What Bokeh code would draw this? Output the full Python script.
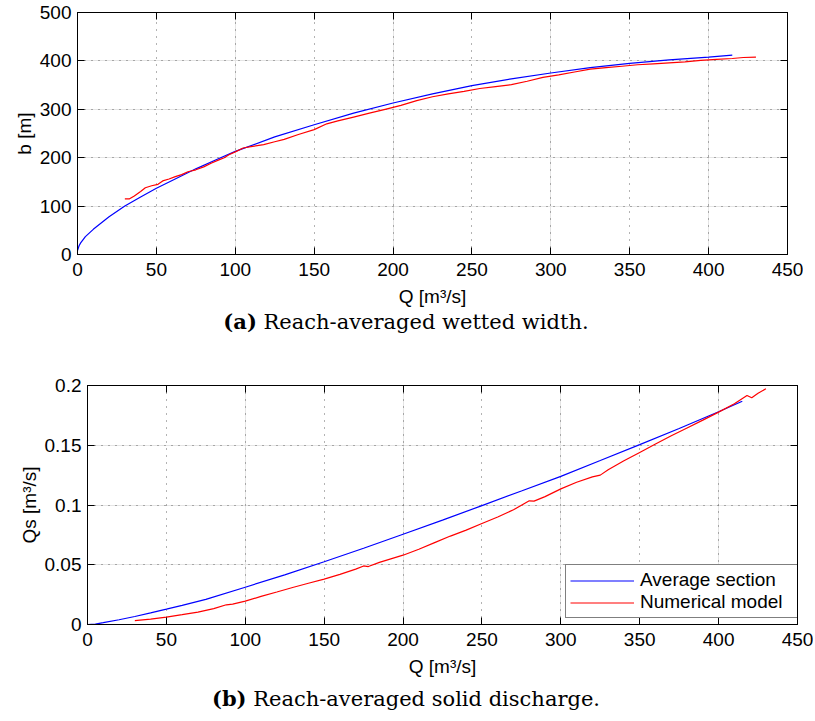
from bokeh.plotting import figure
from bokeh.models import (FixedTicker, LinearAxis, Div, Legend, LegendItem,
                          CustomJSTickFormatter, Range1d, Grid)
from bokeh.layouts import column
from bokeh.embed import file_html
from bokeh.resources import INLINE

# ---------------- data ----------------
x_ticks = [0, 50, 100, 150, 200, 250, 300, 350, 400, 450]
b_ticks = [0, 100, 200, 300, 400, 500]
qs_ticks = [0, 0.05, 0.1, 0.15, 0.2]

# (a) wetted width, average section
q_avg_b = [0, 1, 2, 5, 10, 20, 30, 40, 50, 60, 75, 90, 100, 125, 150, 175, 200,
           225, 250, 275, 300, 325, 350, 375, 400, 415]
b_avg = [8, 18, 24, 37, 52, 78, 100, 119, 137, 153, 177, 199, 213, 243, 268, 292,
         313, 332, 349, 363, 375, 386, 395, 402, 408, 412]

# (a) wetted width, numerical model
q_num_b = [30, 33, 36, 40, 43, 47, 51, 54, 58, 62, 66, 70, 75, 80, 85, 90, 93, 96,
           100, 105, 110, 118, 125, 131, 140, 150, 158, 165, 175, 185, 195, 205,
           215, 225, 235, 245, 255, 265, 275, 285, 295, 305, 315, 325, 335, 345,
           355, 365, 375, 385, 395, 405, 415, 422, 430]
b_num = [115, 115, 121, 130, 138, 142, 145, 152, 156, 161, 165, 171, 175, 181, 189,
         196, 200, 206, 212, 220, 223, 227, 233, 238, 248, 258, 270, 276, 284, 292,
         300, 308, 318, 326, 332, 337, 343, 347, 351, 358, 366, 371, 377, 383, 386,
         389, 392, 394, 396, 398, 401, 403, 405, 407, 408]

# (b) solid discharge, average section
q_avg_s = [0, 5, 10, 20, 30, 40, 50, 60, 75, 100, 125, 150, 175, 200, 225, 250,
           275, 300, 325, 350, 375, 400, 415]
qs_avg = [0, 0.0003, 0.0015, 0.0040, 0.0067, 0.0097, 0.0128, 0.0160, 0.0210,
          0.0312, 0.0415, 0.0525, 0.0638, 0.0755, 0.0873, 0.0995, 0.1117, 0.1240,
          0.1372, 0.1505, 0.1640, 0.1780, 0.1868]

# (b) solid discharge, numerical model
q_num_s = [30, 40, 50, 60, 70, 80, 88, 92, 100, 110, 120, 130, 140, 150, 160, 170,
           175, 178, 185, 200, 210, 220, 230, 240, 250, 260, 270, 280, 283, 290,
           300, 310, 320, 325, 330, 340, 350, 360, 370, 380, 390, 400, 410, 418,
           421, 425, 430]
qs_num = [0.0033, 0.0045, 0.0062, 0.0082, 0.0104, 0.0133, 0.0165, 0.0170, 0.0195,
          0.0235, 0.0272, 0.0310, 0.0345, 0.0380, 0.0420, 0.0463, 0.0490, 0.0485,
          0.0520, 0.0580, 0.0630, 0.0685, 0.0740, 0.0790, 0.0845, 0.0900, 0.0960,
          0.1035, 0.1032, 0.1070, 0.1135, 0.1190, 0.1235, 0.1250, 0.1295, 0.1370,
          0.1440, 0.1510, 0.1580, 0.1645, 0.1710, 0.1777, 0.1847, 0.1916, 0.1897,
          0.1935, 0.1972]

series_names = ["Average section", "Numerical model"]
x_label = "Q [m\u00b3/s]"
y_label_a = "b [m]"
y_label_b = "Qs [m\u00b3/s]"
caption_a = ("(a)", "Reach-averaged wetted width.")
caption_b = ("(b)", "Reach-averaged solid discharge.")

FONT = "Liberation Sans"
FS = "19px"
BLUE = "#0000ff"
RED = "#ff0000"


def make_fig(width, height, left, top, bottom, yrange, yticks, yfmt=None):
    p = figure(width=width, height=height, output_backend="svg", toolbar_location=None,
               x_range=Range1d(0, 450), y_range=Range1d(*yrange),
               min_border_left=left, min_border_right=16, min_border_top=top,
               min_border_bottom=bottom, x_axis_location=None, y_axis_location=None)
    p.background_fill_color = "white"
    p.border_fill_color = "white"
    p.outline_line_color = "black"
    p.outline_line_width = 1

    def axis(ticks, labels, fmt=None):
        ax = LinearAxis(ticker=FixedTicker(ticks=ticks))
        if fmt is not None:
            ax.formatter = fmt
        ax.major_tick_in = 7
        ax.major_tick_out = 0
        ax.minor_tick_in = 0
        ax.minor_tick_out = 0
        ax.major_tick_line_color = "black"
        ax.axis_line_color = "black"
        if labels:
            ax.major_label_text_font = FONT
            ax.major_label_text_font_size = FS
            ax.major_label_text_color = "black"
            ax.major_label_standoff = 6
            ax.axis_label_text_font = FONT
            ax.axis_label_text_font_size = FS
            ax.axis_label_text_font_style = "normal"
            ax.axis_label_text_color = "black"
            ax.axis_label_standoff = 7
        else:
            ax.major_label_text_color = None
            ax.major_label_text_font_size = "1px"
            ax.major_label_standoff = 0
        return ax

    xb = axis(x_ticks, True)
    xb.axis_label = x_label
    xb.major_label_standoff = 8
    yl = axis(yticks, True, yfmt)
    yl.axis_label_standoff = 2
    xt = axis(x_ticks, False)
    yr = axis(yticks, False)
    p.add_layout(xb, "below")
    p.add_layout(yl, "left")
    p.add_layout(xt, "above")
    p.add_layout(yr, "right")

    gx = Grid(dimension=0, ticker=FixedTicker(ticks=x_ticks[1:-1]),
              grid_line_color="#666666", grid_line_dash="1 6", grid_line_width=1)
    gy = Grid(dimension=1, ticker=FixedTicker(ticks=yticks[1:-1]),
              grid_line_color="#666666", grid_line_dash="1 6", grid_line_width=1)
    p.add_layout(gx)
    p.add_layout(gy)
    return p, yl


# ---------------- figure (a) ----------------
# the column aligns plot frames, so both share a left border of 87px;
# figure (a) is shifted 10px left with a negative margin
pa, yla = make_fig(823, 310, 87, 12, 56, (0, 500), b_ticks)
pa.margin = (0, 0, 0, -10)
yla.axis_label = y_label_a
pa.line(q_avg_b, b_avg, line_color=BLUE, line_width=1.2)
pa.line(q_num_b, b_num, line_color=RED, line_width=1.2)

# ---------------- figure (b) ----------------
fmt = CustomJSTickFormatter(code="return String(Number(tick.toFixed(2)));")
pb, ylb = make_fig(813, 348, 87, 51, 58, (0, 0.2), qs_ticks, fmt)
ylb.axis_label = y_label_b
rb = pb.line(q_avg_s, qs_avg, line_color=BLUE, line_width=1.2)
rr = pb.line(q_num_s, qs_num, line_color=RED, line_width=1.2)

legend = Legend(items=[LegendItem(label=series_names[0], renderers=[rb]),
                       LegendItem(label=series_names[1], renderers=[rr])],
                location=(478, 6), orientation="vertical")
legend.label_text_font = FONT
legend.label_text_font_size = FS
legend.label_text_color = "black"
legend.glyph_width = 64
legend.glyph_height = 19
legend.label_height = 19
legend.label_width = 153
legend.label_standoff = 6
legend.padding = 4
legend.spacing = 0
legend.margin = 0
legend.border_line_color = "black"
legend.border_line_width = 1
legend.background_fill_color = "white"
legend.background_fill_alpha = 1
pb.add_layout(legend)


def caption(parts, height):
    html = "<b>%s</b> %s" % parts
    return Div(text=html, width=812, height=height, margin=(0, 0, 0, 0),
               styles={"font-family": "'DejaVu Serif'", "font-size": "21px",
                       "text-align": "center", "line-height": "%dpx" % height,
                       "color": "black", "width": "812px"})


div_a = caption(caption_a, 24)
div_b = caption(caption_b, 34)

layout = column(pa, div_a, pb, div_b, spacing=0)
open("out.html", "w").write(file_html(layout, INLINE))
